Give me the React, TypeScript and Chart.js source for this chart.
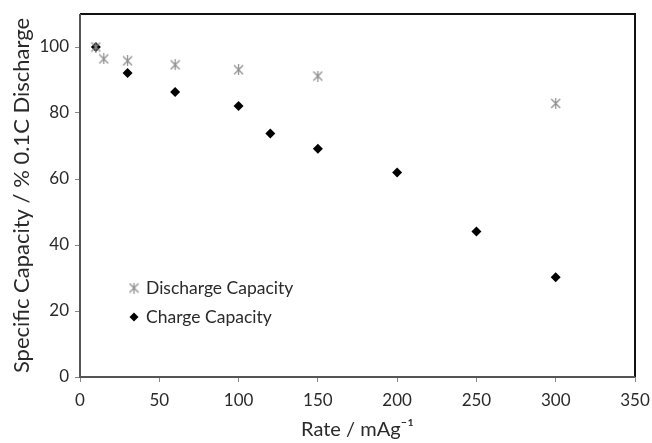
import React, { useEffect, useRef } from "react";
import { Chart, registerables } from "chart.js";

Chart.register(...registerables);

// Rate (mA g^-1) and capacity retention (% of 0.1C discharge)
const dischargeRates = [10, 15, 30, 60, 100, 150, 300];
const dischargeCapacity = [100, 96.4, 95.8, 94.6, 93.1, 91.2, 82.9];
const chargeRates = [10, 30, 60, 100, 120, 150, 200, 250, 300];
const chargeCapacity = [100, 92.1, 86.4, 82.1, 73.8, 69.2, 62.0, 44.1, 30.2];

const xTicks = [0, 50, 100, 150, 200, 250, 300, 350];
const yTicks = [0, 20, 40, 60, 80, 100];

const legendLabels = ["Discharge Capacity", "Charge Capacity"];

const FONT = "Lato, 'Open Sans', sans-serif";
const TEXT = "#2a2a2a";
const STAR_COLOR = "#8c8c8c";

// Excel-style "star" marker: an X with a vertical stroke
function makeStar(size: number, color: string): HTMLCanvasElement {
  const c = document.createElement("canvas");
  c.width = size;
  c.height = size;
  const g = c.getContext("2d")!;
  g.strokeStyle = color;
  g.lineWidth = 1.2;
  const m = 1;
  const s = size - 1;
  g.beginPath();
  g.moveTo(m, m);
  g.lineTo(s, s);
  g.moveTo(s, m);
  g.lineTo(m, s);
  g.moveTo(size / 2, 0);
  g.lineTo(size / 2, size);
  g.stroke();
  return c;
}

function drawDiamond(ctx: CanvasRenderingContext2D, x: number, y: number, r: number) {
  ctx.beginPath();
  ctx.moveTo(x, y - r);
  ctx.lineTo(x + r, y);
  ctx.lineTo(x, y + r);
  ctx.lineTo(x - r, y);
  ctx.closePath();
  ctx.fill();
}

export default function App() {
  const canvasRef = useRef<HTMLCanvasElement | null>(null);

  useEffect(() => {
    const star = makeStar(11, STAR_COLOR);

    // Frame around the plot area
    const framePlugin = {
      id: "frame",
      afterDraw(chart: any) {
        const { ctx, chartArea: a } = chart;
        ctx.save();
        ctx.lineWidth = 2;
        ctx.strokeStyle = "#111111";
        ctx.beginPath();
        ctx.moveTo(a.left, a.top);
        ctx.lineTo(a.right, a.top);
        ctx.lineTo(a.right, a.bottom);
        ctx.stroke();
        ctx.strokeStyle = "#555555";
        ctx.beginPath();
        ctx.moveTo(a.left, a.top);
        ctx.lineTo(a.left, a.bottom);
        ctx.lineTo(a.right, a.bottom);
        ctx.stroke();
        ctx.restore();
      },
    };

    // Legend placed inside the plot area, lower left
    const insetLegend = {
      id: "insetLegend",
      afterDraw(chart: any) {
        const { ctx, chartArea: a } = chart;
        const mx = a.left + 54;
        const tx = a.left + 66;
        const y0 = a.top + 274;
        const dy = 29;
        ctx.save();
        ctx.font = `17.5px ${FONT}`;
        ctx.fillStyle = TEXT;
        ctx.textBaseline = "middle";
        ctx.textAlign = "left";
        ctx.drawImage(star, mx - 5.5, y0 - 5.5);
        ctx.fillText(legendLabels[0], tx, y0);
        ctx.fillStyle = "#000000";
        drawDiamond(ctx, mx, y0 + dy, 4.5);
        ctx.fillStyle = TEXT;
        ctx.fillText(legendLabels[1], tx, y0 + dy);
        ctx.restore();
      },
    };

    const chart = new Chart(canvasRef.current!, {
      type: "scatter",
      data: {
        datasets: [
          {
            label: legendLabels[0],
            data: dischargeRates.map((x, i) => ({ x, y: dischargeCapacity[i] })),
            pointStyle: star as any,
            pointRadius: 5.5,
            backgroundColor: STAR_COLOR,
            borderColor: STAR_COLOR,
          },
          {
            label: legendLabels[1],
            data: chargeRates.map((x, i) => ({ x, y: chargeCapacity[i] })),
            pointStyle: "rectRot",
            pointRadius: 5,
            borderWidth: 0,
            backgroundColor: "#000000",
            borderColor: "#000000",
          },
        ],
      },
      options: {
        animation: false,
        responsive: false,
        maintainAspectRatio: false,
        layout: { padding: { top: 14, right: 17, left: 0, bottom: 0 } },
        plugins: {
          legend: { display: false },
          tooltip: { enabled: false },
        },
        scales: {
          x: {
            type: "linear",
            min: 0,
            max: 350,
            afterBuildTicks(scale: any) {
              scale.ticks = xTicks.map((v) => ({ value: v }));
            },
            afterFit(scale: any) {
              scale.height = 66;
              scale.paddingLeft = 0;
              scale.paddingRight = 0;
            },
            border: { display: false },
            grid: {
              drawOnChartArea: false,
              drawTicks: true,
              tickLength: 5,
              color: "#888888",
            },
            ticks: {
              color: TEXT,
              padding: 8,
              maxRotation: 0,
              font: { family: FONT, size: 17 },
            },
            title: {
              display: true,
              text: "Rate / mAg⁻¹",
              color: TEXT,
              padding: { top: 0, bottom: 1 },
              font: { family: FONT, size: 20 },
            },
          },
          y: {
            type: "linear",
            min: 0,
            max: 110,
            afterBuildTicks(scale: any) {
              scale.ticks = yTicks.map((v) => ({ value: v }));
            },
            afterFit(scale: any) {
              scale.width = 80;
              scale.paddingTop = 0;
              scale.paddingBottom = 0;
            },
            border: { display: false },
            grid: {
              drawOnChartArea: false,
              drawTicks: true,
              tickLength: 5,
              color: "#888888",
            },
            ticks: {
              color: TEXT,
              padding: 6,
              font: { family: FONT, size: 17 },
            },
            title: {
              display: true,
              text: "Specific Capacity / % 0.1C Discharge",
              color: TEXT,
              padding: { top: 9, bottom: 0 },
              font: { family: FONT, size: 22 },
            },
          },
        },
      },
      plugins: [framePlugin, insetLegend],
    });

    return () => chart.destroy();
  }, []);

  return (
    <div style={{ position: "fixed", left: 0, top: 0, width: 652, height: 443, background: "#ffffff" }}>
      <canvas ref={canvasRef} width={652} height={443} style={{ display: "block" }} />
    </div>
  );
}
